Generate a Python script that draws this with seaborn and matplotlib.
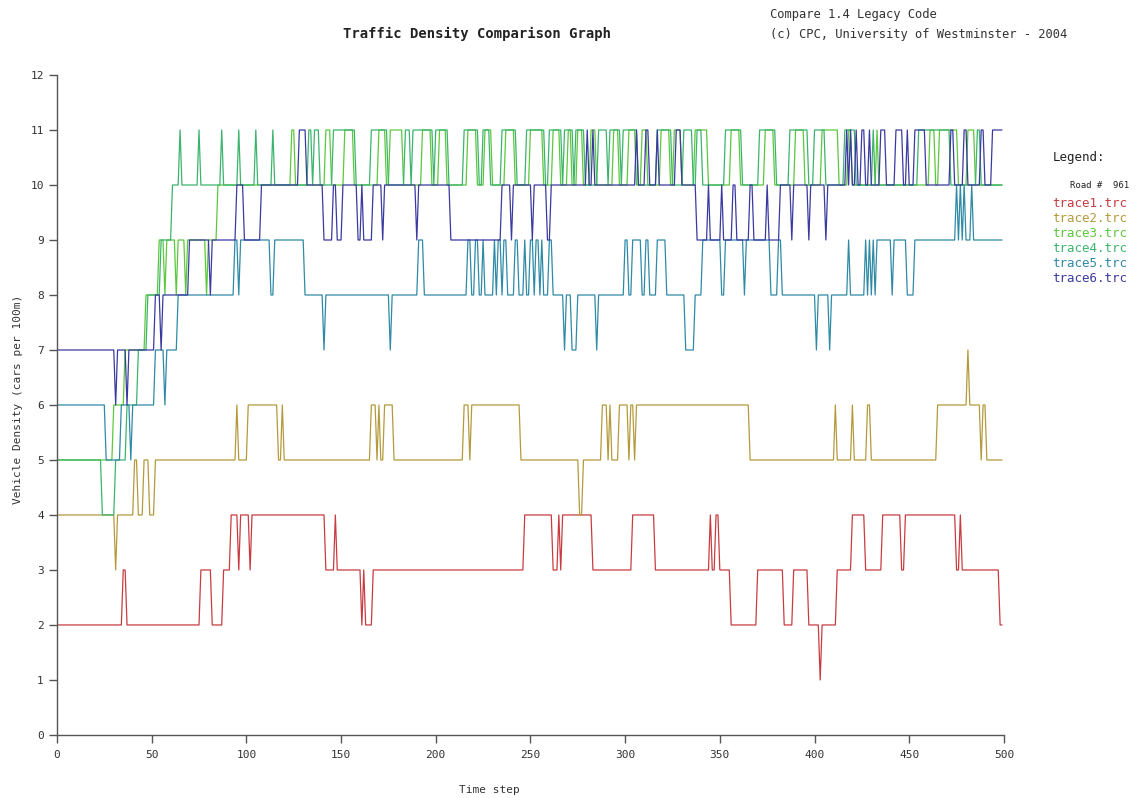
import numpy as np
import pandas as pd
import seaborn as sns
import matplotlib.pyplot as plt

# time steps of the simulation
steps = np.arange(500)

# each trace is stored as runs: the step where a value starts, and that value
trace1_start = [0, 35, 37, 76, 82, 88, 92, 96, 97, 102, 103, 142, 147, 148, 161, 162, 163, 167, 247, 262, 265, 266,
                267, 283, 304, 316, 345, 346, 348, 350, 356, 370, 384, 389, 397, 403, 404, 412, 420, 427, 436, 446,
                448, 475, 477, 478, 498]
trace1_value = [2, 3, 2, 3, 2, 3, 4, 3, 4, 3, 4, 3, 4, 3, 2, 3, 2, 3, 4, 3, 4, 3,
                4, 3, 4, 3, 4, 3, 4, 3, 2, 3, 2, 3, 2, 1, 2, 3, 4, 3, 4, 3,
                4, 3, 4, 3, 2]

trace2_start = [0, 31, 32, 41, 43, 46, 49, 52, 95, 96, 101, 117, 119, 120, 166, 169, 170, 171, 173, 178, 215, 218,
                219, 245, 276, 278, 288, 291, 292, 293, 297, 302, 303, 305, 306, 366, 411, 412, 420, 421, 428, 430,
                465, 481, 482, 488, 489, 491]
trace2_value = [4, 3, 4, 5, 4, 5, 4, 5, 6, 5, 6, 5, 6, 5, 6, 5, 6, 5, 6, 5, 6, 5,
                6, 5, 4, 5, 6, 5, 6, 5, 6, 5, 6, 5, 6, 5, 6, 5, 6, 5, 6, 5,
                6, 7, 6, 5, 6, 5]

trace3_start = [0, 30, 36, 47, 54, 57, 58, 63, 64, 68, 69, 79, 80, 85, 124, 126, 142, 145, 152, 157, 170, 174,
                176, 183, 193, 198, 202, 206, 217, 222, 226, 230, 237, 242, 250, 257, 262, 266, 270, 272, 275, 278,
                282, 285, 294, 297, 302, 306, 309, 312, 319, 324, 326, 330, 337, 344, 356, 361, 374, 379, 390, 395,
                404, 413, 418, 420, 433, 434, 461, 464, 466, 476, 481, 485]
trace3_value = [5, 6, 7, 8, 9, 8, 9, 8, 9, 8, 9, 8, 9, 10, 11, 10, 11, 10, 11, 10, 11, 10,
                11, 10, 11, 10, 11, 10, 11, 10, 11, 10, 11, 10, 11, 10, 11, 10, 11, 10, 11, 10,
                11, 10, 11, 10, 11, 10, 11, 10, 11, 10, 11, 10, 11, 10, 11, 10, 11, 10, 11, 10,
                11, 10, 11, 10, 11, 10, 11, 10, 11, 10, 11, 10]

trace4_start = [0, 24, 31, 37, 43, 48, 55, 61, 65, 66, 75, 76, 87, 88, 96, 97, 105, 106, 114, 115, 133, 135,
                136, 139, 146, 158, 166, 175, 184, 187, 188, 199, 200, 207, 215, 223, 225, 229, 235, 243, 248, 258,
                260, 267, 268, 273, 274, 279, 286, 291, 292, 298, 299, 307, 317, 325, 331, 336, 338, 341, 353, 362,
                371, 380, 387, 397, 400, 406, 416, 422, 431, 432, 455, 472, 486, 488]
trace4_value = [5, 4, 5, 6, 7, 8, 9, 10, 11, 10, 11, 10, 11, 10, 11, 10, 11, 10, 11, 10, 11, 10,
                11, 10, 11, 10, 11, 10, 11, 10, 11, 10, 11, 10, 11, 10, 11, 10, 11, 10, 11, 10,
                11, 10, 11, 10, 11, 10, 11, 10, 11, 10, 11, 10, 11, 10, 11, 10, 11, 10, 11, 10,
                11, 10, 11, 10, 11, 10, 11, 10, 11, 10, 11, 10, 11, 10]

trace5_start = [0, 26, 34, 39, 40, 52, 57, 58, 64, 94,
                96, 97, 113, 115, 131, 141, 142, 176, 177, 191,
                194, 217, 219, 221, 223, 225, 226, 231, 232, 233,
                235, 236, 238, 242, 244, 247, 248, 250, 252, 253,
                255, 256, 257, 260, 262, 268, 269, 272, 275, 285,
                286, 300, 302, 304, 309, 311, 313, 317, 322, 332,
                337, 341, 351, 353, 363, 364, 377, 381, 383, 401,
                402, 408, 409, 418, 419, 427, 428, 429, 430, 431,
                432, 433, 441, 442, 449, 453, 475, 476, 477, 478,
                479, 480, 483, 484]
trace5_value = [6, 5, 6, 5, 6, 7, 6, 7, 8, 9,
                8, 9, 8, 9, 8, 7, 8, 7, 8, 9,
                8, 9, 8, 9, 8, 9, 8, 9, 8, 9,
                8, 9, 8, 9, 8, 9, 8, 9, 8, 9,
                8, 9, 8, 9, 8, 7, 8, 7, 8, 7,
                8, 9, 8, 9, 8, 9, 8, 9, 8, 7,
                8, 9, 8, 9, 8, 9, 8, 9, 8, 7,
                8, 7, 8, 9, 8, 9, 8, 9, 8, 9,
                8, 9, 8, 9, 8, 9, 10, 9, 10, 9,
                10, 9, 10, 9]

trace6_start = [0, 31, 32, 37, 38, 52, 55, 56, 70, 81, 82, 95, 99, 108, 128, 132, 141, 146, 148, 151, 159, 161,
                162, 167, 172, 173, 190, 191, 208, 235, 240, 241, 251, 252, 259, 261, 280, 281, 283, 284, 306, 307,
                311, 313, 317, 318, 327, 330, 338, 344, 345, 351, 352, 357, 359, 366, 368, 375, 376, 382, 388, 389,
                397, 398, 406, 407, 417, 418, 419, 420, 422, 423, 425, 427, 429, 430, 435, 438, 443, 447, 449, 450,
                453, 459, 472, 474, 479, 481, 488, 490, 494]
trace6_value = [7, 6, 7, 6, 7, 8, 7, 8, 9, 8, 9, 10, 9, 10, 11, 10, 9, 10, 9, 10, 9, 10,
                9, 10, 9, 10, 9, 10, 9, 10, 9, 10, 9, 10, 9, 10, 11, 10, 11, 10, 11, 10,
                11, 10, 11, 10, 11, 10, 9, 10, 9, 10, 9, 10, 9, 10, 9, 10, 9, 10, 9, 10,
                9, 10, 9, 10, 11, 10, 11, 10, 11, 10, 11, 10, 11, 10, 11, 10, 11, 10, 11, 10,
                11, 10, 11, 10, 11, 10, 11, 10, 11]

trace_names = ['trace1.trc', 'trace2.trc', 'trace3.trc', 'trace4.trc', 'trace5.trc', 'trace6.trc']
trace_colors = ['#c83c41', '#b49a3c', '#5cc83c', '#3cb46e', '#2f8aa6', '#3a3aa0']
road_id = 961


def expand(starts, values):
    # turn the runs back into one value per time step
    idx = np.searchsorted(starts, steps, side='right') - 1
    return np.asarray(values)[idx]


runs = [(trace1_start, trace1_value), (trace2_start, trace2_value), (trace3_start, trace3_value),
        (trace4_start, trace4_value), (trace5_start, trace5_value), (trace6_start, trace6_value)]
frames = []
for name, (s, v) in zip(trace_names, runs):
    assert len(s) == len(v), name
    frames.append(pd.DataFrame({'step': steps, 'density': expand(s, v), 'trace': name}))
df = pd.concat(frames, ignore_index=True)

sns.set_style('white')
plt.rcParams['font.family'] = ['DejaVu Sans Mono']

fig = plt.figure(figsize=(11.39, 7.98), dpi=100)
ax = fig.add_axes([0.05, 0.079, 0.8314, 0.827])

sns.lineplot(data=df, x='step', y='density', hue='trace', palette=trace_colors, estimator=None,
             linewidth=0.9, legend=False, ax=ax)

ax.set_xlim(0, 500)
ax.set_ylim(0, 12)
ax.set_xticks(range(0, 501, 50))
ax.set_yticks(range(0, 13))
ax.set_xlabel('')
ax.set_ylabel('')
for side in ['top', 'right']:
    ax.spines[side].set_visible(False)
for side in ['left', 'bottom']:
    ax.spines[side].set_color('#555555')
    ax.spines[side].set_linewidth(1.0)
ax.tick_params(axis='both', direction='out', length=6, width=1, color='#555555',
               labelsize=8, labelcolor='#333333', bottom=True, left=True)
ax.tick_params(axis='x', pad=5)

fig.text(0.016, 0.5, 'Vehicle Density (cars per 100m)', rotation=90, va='center', ha='center',
         fontsize=8, color='#333333')
fig.text(0.43, 0.004, 'Time step', ha='center', va='bottom', fontsize=8, color='#333333')

fig.text(0.419, 0.957, 'Traffic Density Comparison Graph', ha='center', va='center',
         fontsize=10, fontweight='bold', color='#222222')
fig.text(0.676, 0.982, 'Compare 1.4 Legacy Code', ha='left', va='center', fontsize=8.7, color='#333333')
fig.text(0.676, 0.957, '(c) CPC, University of Westminster - 2004', ha='left', va='center',
         fontsize=8.7, color='#333333')

fig.text(0.924, 0.803, 'Legend:', ha='left', va='center', fontsize=9, color='#222222')
fig.text(0.939, 0.767, f'Road #  {road_id}', ha='left', va='center', fontsize=6.5, color='#222222')
for i, (name, color) in enumerate(zip(trace_names, trace_colors)):
    fig.text(0.924, 0.745 - i * 0.0188, name, ha='left', va='center', fontsize=9, color=color)

fig.savefig('out.png', dpi=100)
